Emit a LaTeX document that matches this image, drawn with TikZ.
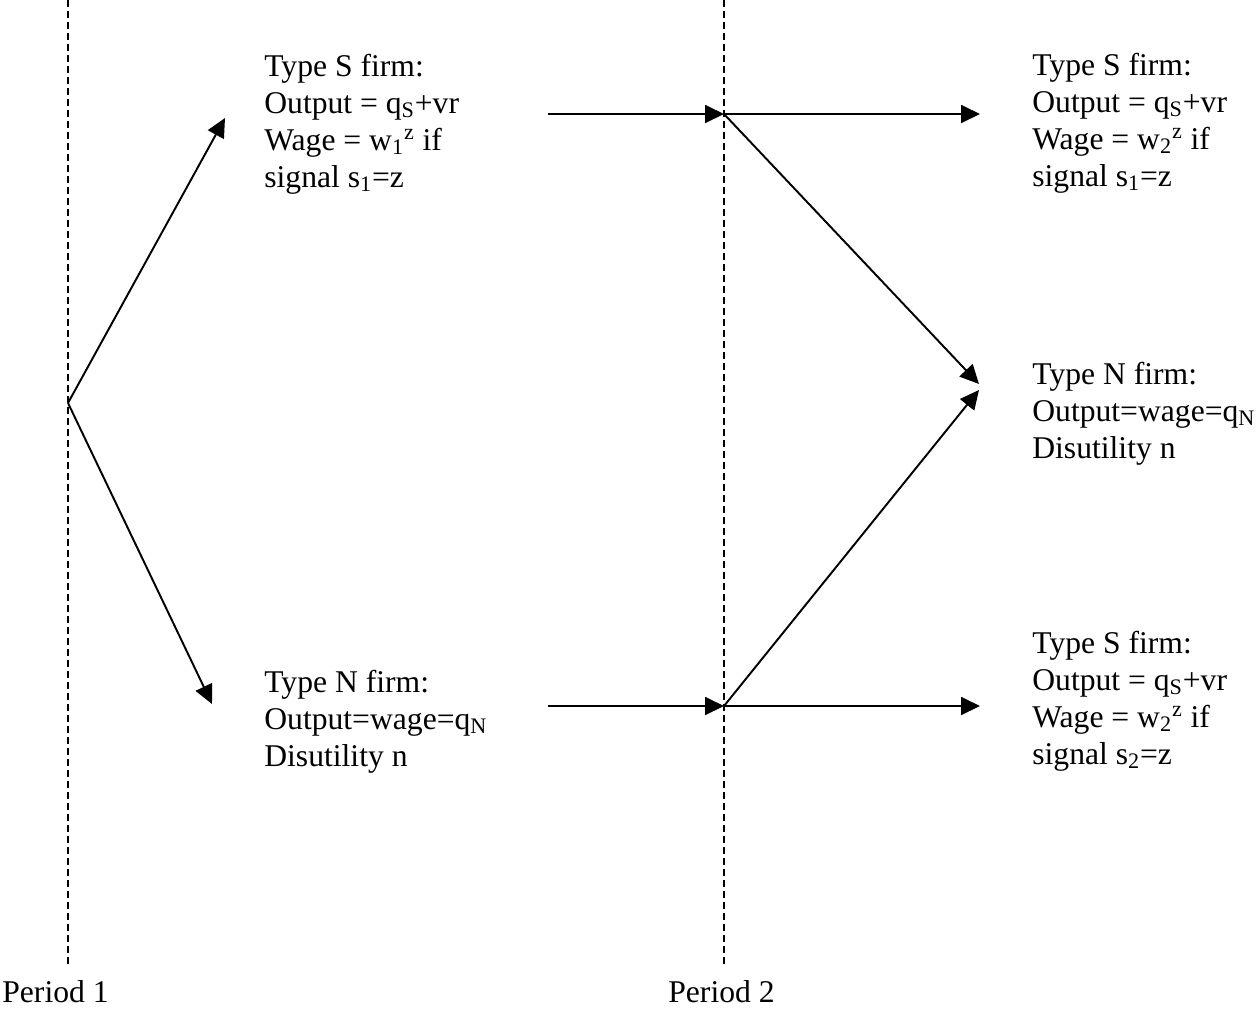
\documentclass[tikz,border=0pt]{standalone}
\usepackage{fontspec}
\setmainfont{Liberation Serif}
\usepackage{tikz}
\usetikzlibrary{arrows.meta,positioning}
\newcommand{\firmfont}{\fontsize{18}{21}\selectfont}
\tikzset{
  firm/.style={align=left, inner sep=0pt, anchor=base west, font=\firmfont},
  lbl/.style={inner sep=0pt, anchor=base west, font=\firmfont},
  timeline/.style={line width=0.8pt, dash pattern=on 1.4mm off 0.8mm},
  arr/.style={-{Triangle[length=3.8mm,width=3.6mm]}, line width=1.1pt}
}
\begin{document}
\begin{tikzpicture}[x=0.2mm, y=-0.2mm]
\useasboundingbox (0,0) rectangle (1258,1008);
\coordinate (t1) at (68,0);
\coordinate (b1) at (68,965);
\coordinate (t2) at (724,0);
\coordinate (b2) at (724,965);
\draw[timeline] (t1) -- (b1);
\draw[timeline] (t2) -- (b2);
\node[lbl] (per1) at (2,1002) {Period 1};
\node[lbl] (per2) at (668,1002) {Period 2};

\node[firm] (s1) at (264,187) {Type S firm:\\Output = q\textsubscript{S}+vr\\Wage = w\textsubscript{1}\textsuperscript{z} if\\signal s\textsubscript{1}=z};
\node[firm] (n1) at (264,766) {Type N firm:\\Output=wage=q\textsubscript{N}\\Disutility n};
\node[firm] (ss) at (1032,186) {Type S firm:\\Output = q\textsubscript{S}+vr\\Wage = w\textsubscript{2}\textsuperscript{z} if\\signal s\textsubscript{1}=z};
\node[firm] (nn) at (1032,458) {Type N firm:\\Output=wage=q\textsubscript{N}\\Disutility n};
\node[firm] (ns) at (1032,764) {Type S firm:\\Output = q\textsubscript{S}+vr\\Wage = w\textsubscript{2}\textsuperscript{z} if\\signal s\textsubscript{2}=z};

\coordinate (root) at (68,403);
\coordinate (s1in) at (225,118);
\coordinate (n1in) at (212,704);
\coordinate (s1out) at (548,114);
\coordinate (sjoin) at (724,114);
\coordinate (n1out) at (548,706);
\coordinate (njoin) at (724,706);
\coordinate (ssin) at (980,114);
\coordinate (nnin1) at (979,384);
\coordinate (nnin2) at (979,390);
\coordinate (nsin) at (980,706);

\draw[arr] (root) -- (s1in);
\draw[arr] (root) -- (n1in);
\draw[arr] (s1out) -- (sjoin);
\draw[arr] (n1out) -- (njoin);
\draw[arr] (sjoin) -- (ssin);
\draw[arr] (sjoin) -- (nnin1);
\draw[arr] (njoin) -- (nnin2);
\draw[arr] (njoin) -- (nsin);
\end{tikzpicture}
\end{document}
